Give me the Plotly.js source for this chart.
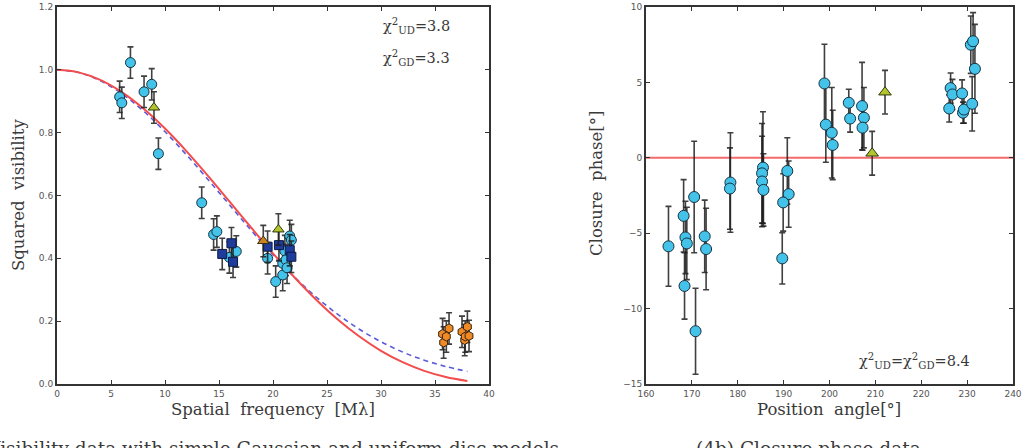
<!DOCTYPE html>
<html>
<head>
<meta charset="utf-8">
<script src="https://cdn.plot.ly/plotly-3.0.1.min.js"></script>
<style>
  html, body { margin: 0; padding: 0; background: #fff; }
  #chart { width: 1030px; height: 448px; }
</style>
</head>
<body>
<div id="chart"></div>
<script>
// ---- (4a) squared visibility vs spatial frequency ----
const circFreq = [5.8, 6.0, 6.8, 8.06, 8.77, 9.39, 13.4, 14.5, 14.8, 15.96, 16.6, 19.5, 20.25, 20.9, 20.9, 21.1, 21.2, 21.55, 21.7, 21.3];
const circVis  = [0.914, 0.895, 1.023, 0.930, 0.954, 0.733, 0.577, 0.476, 0.485, 0.403, 0.422, 0.400, 0.326, 0.347, 0.384, 0.423, 0.395, 0.471, 0.458, 0.370];
const circErr  = [0.05, 0.05, 0.05, 0.05, 0.05, 0.05, 0.05, 0.05, 0.05, 0.05, 0.05, 0.05, 0.05, 0.05, 0.05, 0.05, 0.05, 0.05, 0.05, 0.05];

const sqFreq = [15.3, 16.15, 16.3, 19.5, 20.55, 21.55, 21.7];
const sqVis  = [0.414, 0.448, 0.389, 0.437, 0.442, 0.426, 0.405];
const sqErr  = [0.05, 0.05, 0.05, 0.05, 0.05, 0.05, 0.05];

const triFreq = [8.98, 20.5];
const triVis  = [0.880, 0.492];
const triErr  = [0.05, 0.05];

const triOrFreq = [19.1];
const triOrVis  = [0.455];
const triOrErr  = [0.05];

const hexFreq = [35.7, 35.8, 36.05, 36.3, 37.5, 37.75, 37.8, 38.0, 38.15];
const hexVis  = [0.159, 0.132, 0.151, 0.177, 0.166, 0.140, 0.151, 0.182, 0.153];
const hexErr  = [0.05, 0.05, 0.05, 0.05, 0.05, 0.05, 0.05, 0.05, 0.05];

// model curves (tabulated)
const modelFreq = [0, 2, 4, 6, 8, 10, 12, 14, 16, 18, 20, 22, 24, 26, 28, 30, 32, 34, 36, 38];
const udModel   = [1.0, 0.9919, 0.9679, 0.9290, 0.8767, 0.8130, 0.7405, 0.6617, 0.5796, 0.4967, 0.4157, 0.3390, 0.2684, 0.2054, 0.1510, 0.1056, 0.0694, 0.0419, 0.0223, 0.0096];
const gdModel   = [1.0, 0.9913, 0.9655, 0.9240, 0.8690, 0.8030, 0.7290, 0.6500, 0.5690, 0.4880, 0.4110, 0.3400, 0.2768, 0.2215, 0.1741, 0.1344, 0.1019, 0.0759, 0.0556, 0.0400];

// ---- (4b) closure phase vs position angle ----
const cpAngle = [164.9, 168.2, 168.6, 168.9, 168.4, 170.5, 170.8, 172.8, 173.1,
                 178.4, 178.3, 185.5, 185.3, 185.3, 185.6, 190.8, 191.1, 189.9, 189.7,
                 198.9, 199.2, 200.5, 200.7, 204.2, 204.5, 207.1, 207.5, 207.2,
                 226.4, 226.8, 226.1, 228.9, 229.1, 229.3, 231.1, 230.8, 231.3, 231.7];
const cpPhase = [-5.87, -3.85, -5.28, -5.68, -8.50, -2.60, -11.50, -5.21, -6.05,
                 -1.64, -2.04, -0.65, -1.03, -1.57, -2.13, -0.87, -2.41, -2.96, -6.67,
                 4.93, 2.20, 1.66, 0.85, 3.65, 2.60, 3.43, 2.66, 2.00,
                 4.62, 4.20, 3.27, 4.27, 2.99, 3.20, 3.58, 7.50, 7.73, 5.90];
const cpErr   = [2.65, 2.40, 2.40, 2.40, 2.20, 3.70, 2.85, 2.40, 2.70,
                 3.30, 2.70, 3.70, 3.30, 3.00, 2.40, 2.20, 2.20, 1.90, 1.70,
                 2.60, 2.50, 3.00, 2.30, 0.90, 0.90, 2.90, 2.00, 1.50,
                 1.00, 1.00, 0.90, 0.90, 0.70, 0.90, 1.80, 1.90, 1.90, 2.95];

const cpTriAngle = [209.3, 212.1];
const cpTriPhase = [0.30, 4.35];
const cpTriErr   = [1.45, 1.45];

const zeroAngle = [160, 240];
const zeroPhase = [0, 0];

// ---- styling ----
const W = 1030, H = 448, T = 7, B = 64;
const px = v => v / W;                       // horizontal pixel -> paper
const py = v => (H - B - v) / (H - T - B);   // vertical pixel -> paper

const cyan = '#43c3ea', edge = '#17323f';
const errStyle = (arr, c) => ({ type: 'data', array: arr, visible: true, color: c || 'rgba(30,30,30,0.85)', thickness: 1.6, width: 3 });

const traces = [
  { x: modelFreq, y: gdModel, mode: 'lines', line: { color: '#5b5bdc', width: 1.6, dash: '5px,4px', shape: 'spline' }, xaxis: 'x', yaxis: 'y', hoverinfo: 'skip' },
  { x: modelFreq, y: udModel, mode: 'lines', line: { color: '#f24c4c', width: 2, shape: 'spline' }, xaxis: 'x', yaxis: 'y', hoverinfo: 'skip' },
  { x: circFreq, y: circVis, mode: 'markers', error_y: errStyle(circErr),
    marker: { symbol: 'circle', size: 10, color: cyan, line: { color: edge, width: 1 } }, xaxis: 'x', yaxis: 'y' },
  { x: sqFreq, y: sqVis, mode: 'markers', error_y: errStyle(sqErr),
    marker: { symbol: 'square', size: 9, color: '#1f3c9c', line: { color: '#0d1a40', width: 1 } }, xaxis: 'x', yaxis: 'y' },
  { x: triFreq, y: triVis, mode: 'markers', error_y: errStyle(triErr),
    marker: { symbol: 'triangle-up', size: 10, color: '#b3c42c', line: { color: '#2d3a10', width: 1 } }, xaxis: 'x', yaxis: 'y' },
  { x: triOrFreq, y: triOrVis, mode: 'markers', error_y: errStyle(triOrErr),
    marker: { symbol: 'triangle-up', size: 10, color: '#c8841e', line: { color: '#3a2a10', width: 1 } }, xaxis: 'x', yaxis: 'y' },
  { x: hexFreq, y: hexVis, mode: 'markers', error_y: errStyle(hexErr),
    marker: { symbol: 'hexagon', size: 9, color: '#f08a24', line: { color: '#3a2410', width: 1 } }, xaxis: 'x', yaxis: 'y' },

  { x: zeroAngle, y: zeroPhase, mode: 'lines', line: { color: '#f56a6a', width: 2 }, xaxis: 'x2', yaxis: 'y2', hoverinfo: 'skip' },
  { x: cpAngle, y: cpPhase, mode: 'markers', error_y: errStyle(cpErr),
    marker: { symbol: 'circle', size: 11, color: cyan, line: { color: edge, width: 1 } }, xaxis: 'x2', yaxis: 'y2' },
  { x: cpTriAngle, y: cpTriPhase, mode: 'markers', error_y: errStyle(cpTriErr),
    marker: { symbol: 'triangle-up', size: 11, color: '#b3c42c', line: { color: '#2d3a10', width: 1 } }, xaxis: 'x2', yaxis: 'y2' }
];

const tickFont = { family: 'DejaVu Sans, sans-serif', size: 9, color: '#555' };
const axisBase = {
  showline: true, linecolor: '#333', linewidth: 2, mirror: 'ticks',
  ticks: 'inside', ticklen: 4, tickwidth: 1, tickcolor: '#333',
  showgrid: false, zeroline: false, tickfont: tickFont, fixedrange: true
};

const serif = 'DejaVu Serif, Liberation Serif, serif';
const ann = (text, x, y, size, extra) => Object.assign({
  text: text, xref: 'paper', yref: 'paper', x: x, y: y, showarrow: false,
  xanchor: 'center', yanchor: 'middle',
  font: { family: serif, size: size, color: '#3a3a3a' }
}, extra || {});

const layout = {
  width: W, height: H,
  margin: { l: 0, r: 0, t: T, b: B, pad: 0 },
  paper_bgcolor: '#fff', plot_bgcolor: '#fff',
  showlegend: false,
  xaxis: Object.assign({}, axisBase, { domain: [px(57), px(489)], range: [0, 40], dtick: 5, anchor: 'y' }),
  yaxis: Object.assign({}, axisBase, { domain: [0, 1], range: [0, 1.2], dtick: 0.2, tickformat: '.1f', anchor: 'x' }),
  xaxis2: Object.assign({}, axisBase, { domain: [px(646), px(1013)], range: [160, 240], dtick: 10, anchor: 'y2' }),
  yaxis2: Object.assign({}, axisBase, { domain: [0, 1], range: [-15, 10], dtick: 5, anchor: 'x2' }),
  annotations: [
    ann('χ<sup>2</sup><sub>UD</sub>=3.8', px(416), py(26), 14.5),
    ann('χ<sup>2</sup><sub>GD</sub>=3.3', px(416), py(58), 14.5),
    ann('χ<sup>2</sup><sub>UD</sub>=χ<sup>2</sup><sub>GD</sub>=8.4', px(914), py(361), 14.5),
    ann('Spatial  frequency  [Mλ]', px(273), py(410), 16.5),
    ann('Squared  visibility', px(18), py(195), 16.5, { textangle: -90 }),
    ann('Position  angle[°]', px(829), py(410), 16.5),
    ann('Closure  phase[°]', px(597), py(184), 16.5, { textangle: -90 }),
    ann('(4a) Visibility data with simple Gaussian and uniform disc models', px(561), py(436), 18.5, { xanchor: 'right', yanchor: 'top' }),
    ann('(4b) Closure phase data', px(808), py(436), 18.5, { xanchor: 'center', yanchor: 'top' })
  ]
};

Plotly.newPlot('chart', traces, layout, { staticPlot: true, displayModeBar: false });
</script>
</body>
</html>
